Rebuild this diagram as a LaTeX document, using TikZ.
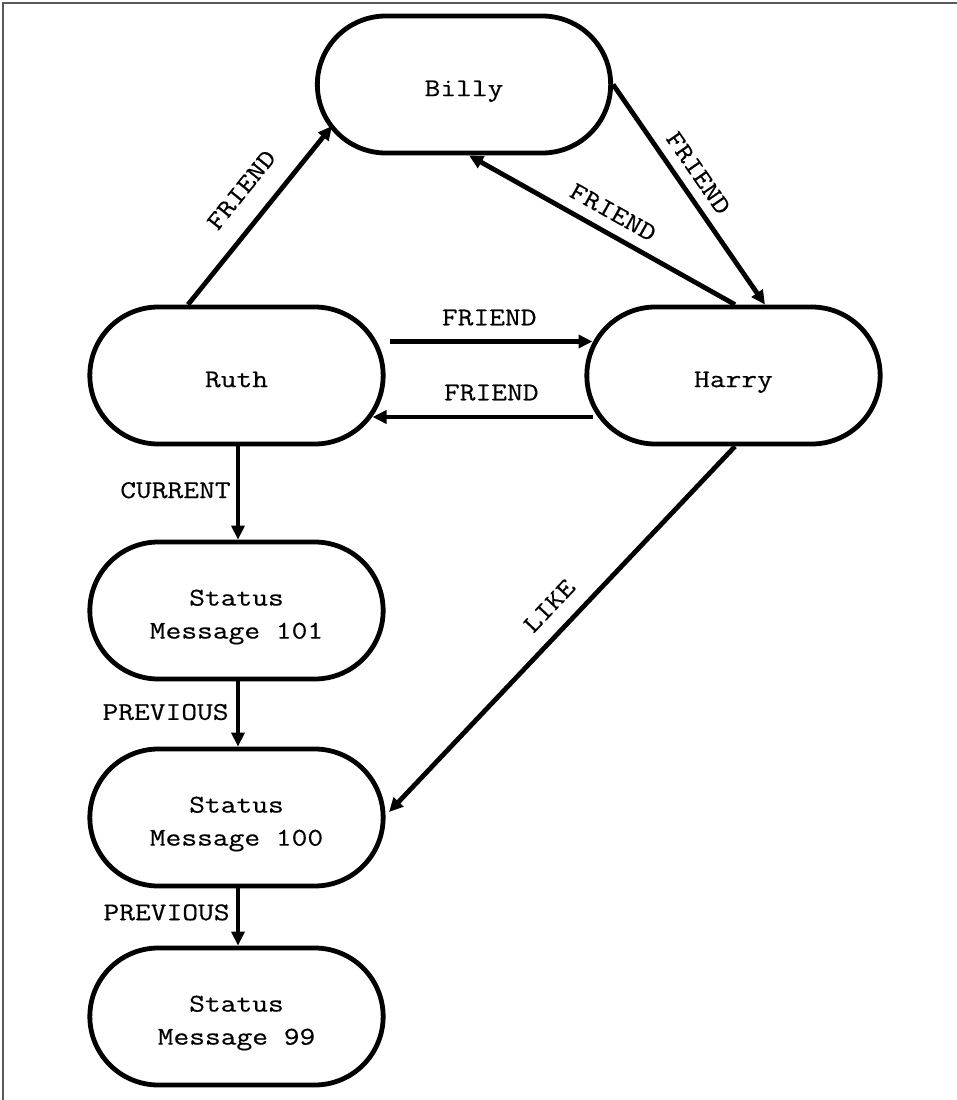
\documentclass[tikz,border=0pt]{standalone}
\usepackage{fontspec}
\newfontfamily\diagfont[FakeStretch=1.2,FakeBold=0.4]{Latin Modern Mono}
\usetikzlibrary{arrows.meta,calc,shapes.misc}

% extra height on the first line pushes node text a little below centre
\newcommand\toppad{\rule{0pt}{29pt}}

\tikzset{
  diagtext/.style={font=\diagfont\fontsize{25.5}{33}\selectfont},
  entity/.style={draw, line width=4.8pt, rounded rectangle, minimum width=300pt,
    minimum height=137pt, align=center, diagtext},
  rel/.style={line width=4.8pt, -{Triangle[length=14pt,width=13pt]}},
  lbl/.style={inner sep=0pt, diagtext},
  frame/.style={draw=black!65, line width=1.6pt}
}

\begin{document}
\begin{tikzpicture}[x=1pt,y=-1pt]
  \useasboundingbox (0,0) rectangle (957,1100);
  \fill[white] (0,0) rectangle (957,1100);
  % thin frame along the top and left edges
  \draw[frame] (3,1100) -- (3,3) -- (957,3);

  % people
  \node[entity] (billy) at (464,84.5) {\toppad Billy};
  \node[entity] (ruth)  at (236.5,375.5) {\toppad Ruth\vphantom{y}};
  \node[entity] (harry) at (733.5,375.5) {\toppad Harry};

  % status message chain
  \node[entity] (s101) at (236.5,610.5) {\toppad Status\\Message 101};
  \node[entity] (s100) at (236.5,817.5) {\toppad Status\\Message 100};
  \node[entity] (s99)  at (236.5,1016.5) {\toppad Status\\Message 99};

  % friendships
  \draw[rel] ($(ruth.north)+(-48.5,0)$) -- ($(billy.center)+(-132,41.5)$)
    node[lbl, sloped, pos=0.535, above=20pt] (lrb) {FRIEND};
  \draw[rel] (billy.east) -- ($(harry.north)+(31.5,0)$)
    node[lbl, sloped, pos=0.453, above=9.5pt] (lbh) {FRIEND};
  \draw[rel] ($(harry.north)+(1.5,0)$) -- ($(billy.south)+(5,0)$)
    node[lbl, sloped, pos=0.497, above=10.5pt] (lhb) {FRIEND};
  \draw[rel] ($(ruth.center)+(153.5,-34)$) -- ($(harry.center)+(-141,-34)$)
    node[lbl, pos=0.49, above=13.5pt] (lrh) {FRIEND};
  \draw[rel] ($(harry.center)+(-141,41.5)$) -- ($(ruth.center)+(136,41.5)$)
    node[lbl, pos=0.46, above=14pt] (lhr) {FRIEND};

  % status links
  \draw[rel] ($(ruth.south)+(1.5,0)$) -- ($(s101.north)+(1.5,0)$)
    node[lbl, pos=0.47, left=5pt] (lcur) {CURRENT};
  \draw[rel] ($(s101.south)+(1.5,0)$) -- ($(s100.north)+(1.5,0)$)
    node[lbl, pos=0.47, left=7pt] (lprev1) {PREVIOUS};
  \draw[rel] ($(s100.south)+(1.5,0)$) -- ($(s99.north)+(1.5,0)$)
    node[lbl, pos=0.42, left=6pt] (lprev2) {PREVIOUS};

  % like
  \draw[rel] ($(harry.south)+(1.5,0)$) -- ($(s100.center)+(152.5,-5.5)$)
    node[lbl, sloped, pos=0.484, above=15pt] (llike) {LIKE};
\end{tikzpicture}
\end{document}
